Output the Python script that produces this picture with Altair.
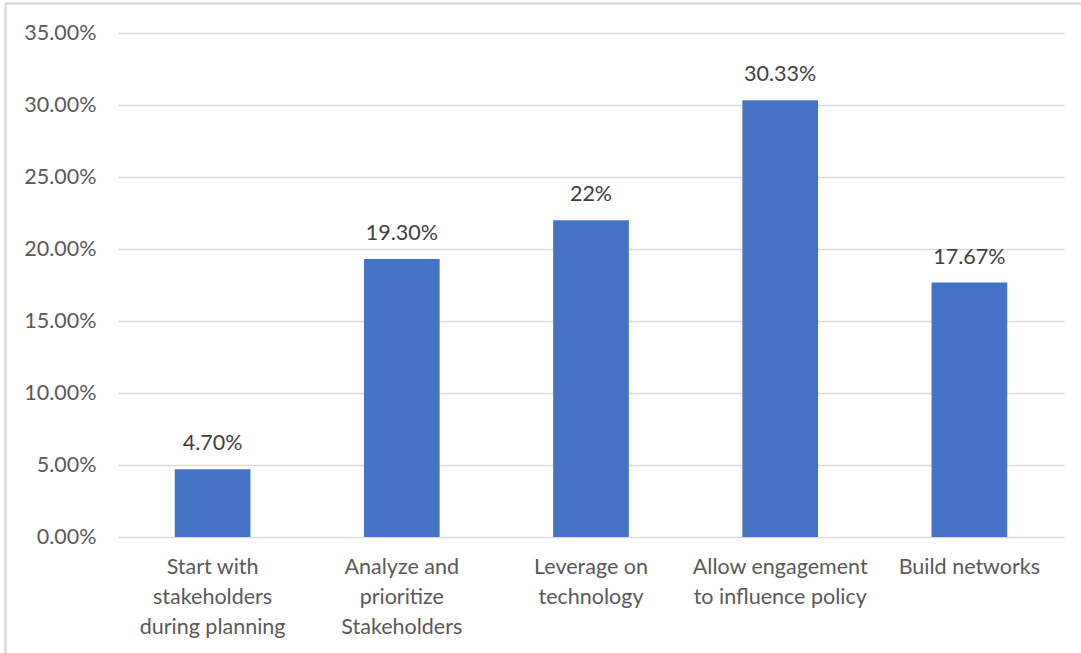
import altair as alt
import pandas as pd

categories = [
    "Start with stakeholders during planning",
    "Analyze and prioritize Stakeholders",
    "Leverage on technology",
    "Allow engagement to influence policy",
    "Build networks",
]
label_lines = [
    ["Start with", "stakeholders", "during planning"],
    ["Analyze and", "prioritize", "Stakeholders"],
    ["Leverage on", "technology"],
    ["Allow engagement", "to influence policy"],
    ["Build networks"],
]
values = [0.047, 0.193, 0.22, 0.3033, 0.1767]
value_labels = ["4.70%", "19.30%", "22%", "30.33%", "17.67%"]
y_ticks = [0, 0.05, 0.10, 0.15, 0.20, 0.25, 0.30, 0.35]

df = pd.DataFrame({"cat": categories, "value": values, "label": value_labels})

FONT = "Lato"
FS = 21.5
W, H = 946, 504

lab_map = {c: "|".join(l) for c, l in zip(categories, label_lines)}
expr = "{" + ",".join(f"'{c}':'{v}'" for c, v in lab_map.items()) + "}"
xenc = alt.X("cat:N", sort=categories, title=None,
             scale=alt.Scale(paddingInner=0.6, paddingOuter=0.3),
             axis=alt.Axis(
                 labelExpr=f"split({expr}[datum.value], '|')",
                 labelAngle=0, labelFontSize=FS, labelColor="#595959", labelFont=FONT,
                 labelPadding=19, labelLineHeight=30, domain=False, ticks=False,
                 labelBaseline="top", grid=False,
             ))

yenc = alt.Y("value:Q", title=None,
             scale=alt.Scale(domain=[0, 0.35], nice=False),
             axis=alt.Axis(values=y_ticks, format=".2%", labelFontSize=FS,
                           labelColor="#595959", labelFont=FONT, labelPadding=22,
                           domain=False, ticks=False, gridColor="#d9d9d9",
                           gridWidth=1.3))

bars = alt.Chart(df).mark_bar(color="#4472C4").encode(x=xenc, y=yenc)

text = alt.Chart(df).mark_text(dy=-25, fontSize=FS, color="#404040", font=FONT).encode(
    x=alt.X("cat:N", sort=categories), y="value:Q", text="label:N")

border_top = alt.Chart(df).mark_rule(color="#d9d9d9", strokeWidth=1.5).encode(
    x=alt.value(-113), x2=alt.value(965), y=alt.value(-29.5))
border_left = alt.Chart(df).mark_rule(color="#d9d9d9", strokeWidth=1.5).encode(
    x=alt.value(-112.5), y=alt.value(-30), y2=alt.value(625))

chart = alt.layer(bars, text, border_top, border_left).properties(
    width=W, height=H,
    autosize=alt.AutoSizeParams(type="none"),
    padding={"left": 118, "top": 33, "right": 17, "bottom": 116},
).configure(background="white").configure_view(stroke=None)

chart.save("out.html", embed_options={"renderer": "svg", "actions": False})
